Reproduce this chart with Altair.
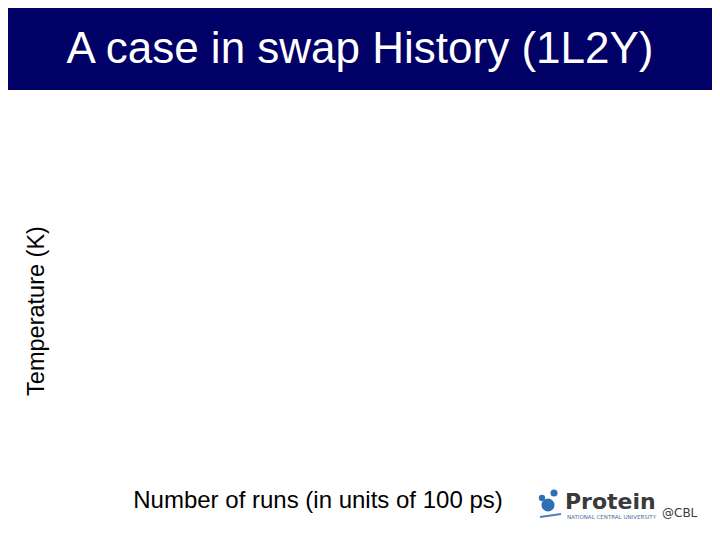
import altair as alt
import pandas as pd

# Slide texts
title_text = ["A case in swap History (1L2Y)"]
x_label = ["Number of runs (in units of 100 ps)"]
y_label = ["Temperature (K)"]
logo_main = ["Protein"]
logo_sub = ["NATIONAL CENTRAL UNIVERSITY"]
logo_at = ["@CBL"]

W, H = 704, 520
one = alt.Data(values=[{"k": 0}])

band = alt.Chart(one).mark_rect(color="#000066").encode(
    x=alt.value(0), x2=alt.value(W), y=alt.value(0), y2=alt.value(82)
)

def txt(s, x, y, size, color="black", angle=0, font="Liberation Sans", weight="normal", baseline="alphabetic", align="center"):
    df = pd.DataFrame({"t": s})
    return alt.Chart(df).mark_text(
        font=font, fontSize=size, color=color, angle=angle, fontWeight=weight,
        baseline=baseline, align=align
    ).encode(text="t:N", x=alt.value(x), y=alt.value(y))

title = txt(title_text, 352, 55, 44, color="white")
xl = txt(x_label, 310, 500, 24)
yl = txt(y_label, 29, 303, 23.5, angle=270, baseline="middle")

# logo
spheres = pd.DataFrame({"cx": [540, 546, 534], "cy": [497, 485, 490], "sz": [170, 50, 40]})
icon = alt.Chart(spheres).mark_circle(color="#2f6fb8", opacity=1).encode(
    x=alt.X("cx:Q", scale=alt.Scale(domain=[0, W], range=[0, W]), axis=None),
    y=alt.Y("cy:Q", scale=alt.Scale(domain=[0, H], range=[0, H]), axis=None),
    size=alt.Size("sz:Q", scale=None, legend=None),
)
swoosh = alt.Chart(one).mark_rule(color="#4a7fc0", strokeWidth=2).encode(
    x=alt.value(532), x2=alt.value(553), y=alt.value(509), y2=alt.value(506)
)
lm = txt(logo_main, 557, 501, 22, color="#3a3a3a", font="DejaVu Sans", weight="bold", align="left")
ls = txt(logo_sub, 559, 511, 5.5, color="#5070a0", font="DejaVu Sans", align="left")
la = txt(logo_at, 654, 509, 12, color="#3a3a3a", font="DejaVu Sans", align="left")

chart = alt.layer(band, title, xl, yl, icon, swoosh, lm, ls, la).properties(
    width=W, height=H, padding=0, autosize=alt.AutoSizeParams(type="none")
).configure_view(stroke=None)

chart.save("out.html", embed_options={"renderer": "svg", "actions": False})
